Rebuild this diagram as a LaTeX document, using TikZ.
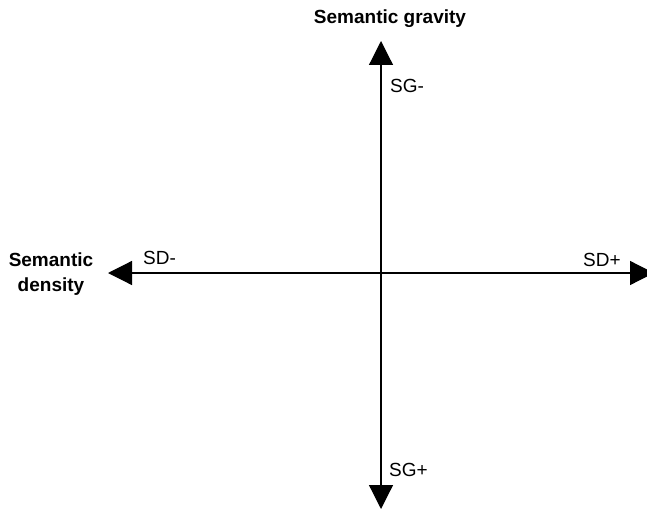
\documentclass[tikz,border=0pt]{standalone}
\usepackage{fontspec}
\setmainfont{Liberation Sans}
\usetikzlibrary{arrows.meta,positioning}
\tikzset{
  axis/.style={-{Triangle[length=24pt,width=24pt]}, line width=1.2pt},
  pole/.style={font=\fontsize{19}{21}\selectfont, inner sep=0pt, anchor=west},
  axname/.style={font=\fontsize{19}{25}\selectfont\bfseries, align=center, inner sep=0pt},
}
\begin{document}
\begin{tikzpicture}[x=1pt, y=-1pt]
    \useasboundingbox (0,0) rectangle (647,508);
    % axis ends
    \coordinate (O) at (381,273);
    \coordinate (G-) at (381,41);
    \coordinate (G+) at (381,509);
    \coordinate (D-) at (108,273);
    \coordinate (D+) at (654,273);
    \draw[axis] (O) -- (G-);
    \draw[axis] (O) -- (G+);
    \draw[axis] (O) -- (D-);
    \draw[axis] (O) -- (D+);
    % names of the axes
    \node[axname] (gravity) at (390,19) {Semantic gravity};
    \node[axname] (density) at (51,274) {Semantic\\density};
    % poles
    \node[pole] (sgminus) at (390,86) {SG-};
    \node[pole] (sgplus) at (389,470) {SG+};
    \node[pole] (sdminus) at (143,258) {SD-};
    \node[pole] (sdplus) at (583,260) {SD+};
  \end{tikzpicture}
\end{document}
